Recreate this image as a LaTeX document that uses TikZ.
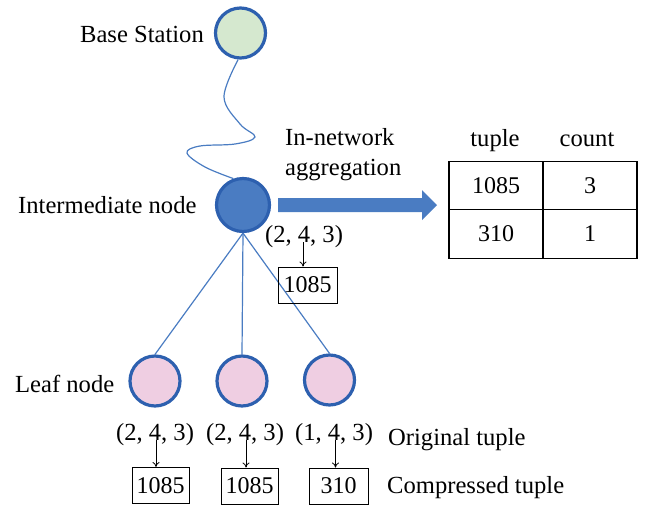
\documentclass[tikz,border=0pt]{standalone}
\usepackage{fontspec}
\setmainfont{Liberation Serif}
\usetikzlibrary{arrows.meta}
\definecolor{ring}{HTML}{2D60AF}
\definecolor{midblue}{HTML}{4A7CC2}
\definecolor{basegreen}{HTML}{D5E8CF}
\definecolor{leafpink}{HTML}{EFCEE2}
\begin{document}
\begin{tikzpicture}[x=1pt,y=-1pt,
  every node/.style={font=\fontsize{24.6}{28}\selectfont},
  netnode/.style={circle,draw=ring,line width=3.2pt,inner sep=0pt},
  lbl/.style={inner sep=0pt},
  numf/.style={font=\fontsize{24}{28}\selectfont},
  tbox/.style={numf,draw=black,line width=1pt,minimum width=57pt,minimum height=36pt,inner sep=0pt},
  cell/.style={numf,draw=black,line width=1.3pt,minimum width=94pt,minimum height=48.5pt,inner sep=0pt},
  link/.style={draw=midblue,line width=1.2pt},
  conv/.style={draw=black,line width=0.8pt,-{To[length=5pt,width=7pt]}}]
\useasboundingbox (0,0) rectangle (646,507);
% nodes
\node[netnode,fill=basegreen,minimum size=50pt] (b) at (240.5,33) {};
\node[netnode,fill=midblue,minimum size=53pt] (i) at (243,205) {};
\node[netnode,fill=leafpink,minimum size=50pt] (l1) at (155,381) {};
\node[netnode,fill=leafpink,minimum size=50pt] (l2) at (242,381) {};
\node[netnode,fill=leafpink,minimum size=50pt] (l3) at (329.5,380) {};
% labels
\node[lbl,anchor=base east] (tb) at (204,42) {Base Station};
\node[lbl,anchor=base west] (ti) at (18,213) {Intermediate node};
\node[lbl,anchor=base west] (tl) at (15,392) {Leaf node};
\node[lbl,anchor=base west] (ta) at (285,145) {In-network};
\node[lbl,anchor=base west] (tg) at (285,175) {aggregation};
% wavy wireless link
\draw[link] plot[smooth,tension=0.6] coordinates {(b.-95) (224,97) (240,124) (255,137) (235,144) (200,146) (187,153) (205,167) (i.110)};
% tree links
\draw[link] (i.south) -- (l1.north);
\draw[link] (i.south) -- (l2.north);
\draw[link] (i.south) -- (l3.north);
% big arrow
\coordinate (as) at (278,205);
\coordinate (ae) at (437,205);
\fill[midblue] (as) ++(0,-7) -- (422,198) -- (422,190) -- (ae) -- (422,220) -- (422,212) -- (278,212) -- cycle;
% table
\node[lbl,anchor=base] (h1) at (495,146) {tuple};
\node[lbl,anchor=base] (h2) at (587,146) {count};
\node[cell] (c11) at (496,185.5) {1085};
\node[cell] (c12) at (590,185.5) {3};
\node[cell] (c21) at (496,234) {310};
\node[cell] (c22) at (590,234) {1};
% intermediate tuple
\node[lbl,anchor=base] (ti4) at (304,242) {(2, 4, 3)};
\node[tbox,minimum width=59pt] (bi) at (307.5,285) {1085};
\draw[conv] (ti4.base) ++(-1,0) -- ([xshift=-1pt]ti4.base |- bi.north);
% leaf tuples
\node[lbl,anchor=base] (t1) at (155,440) {(2, 4, 3)};
\node[lbl,anchor=base] (t2) at (245,440) {(2, 4, 3)};
\node[lbl,anchor=base] (t3) at (334,440) {(1, 4, 3)};
\node[tbox] (b1) at (160.5,485.5) {1085};
\node[tbox] (b2) at (249.5,486) {1085};
\node[tbox,minimum width=59pt] (b3) at (338.5,486) {310};
\draw[conv] (t1.base) ++(1,0) -- ([xshift=1pt]t1.base |- b1.north);
\draw[conv] (t2.base) ++(1,0) -- ([xshift=1pt]t2.base |- b2.north);
\draw[conv] (t3.base) ++(1.5,0) -- ([xshift=1.5pt]t3.base |- b3.north);
\node[lbl,anchor=base west] (to) at (388,445) {Original tuple};
\node[lbl,anchor=base west] (tc) at (387,493) {Compressed tuple};
\end{tikzpicture}
\end{document}
